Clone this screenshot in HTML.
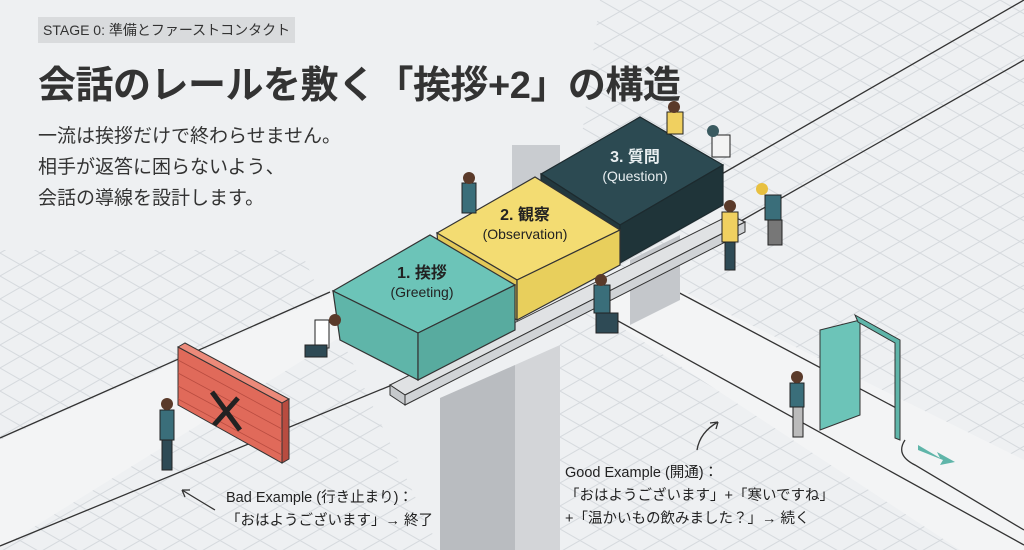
<!DOCTYPE html>
<html><head><meta charset="utf-8"><style>
html,body{margin:0;padding:0;}
body{width:1024px;height:550px;overflow:hidden;background:#eef0f2;font-family:"Liberation Sans","Noto Sans CJK JP",sans-serif;position:relative;}
svg{position:absolute;left:0;top:0;}
.t{position:absolute;color:#2b2b2b;white-space:nowrap;}
</style></head><body>
<svg width="1024" height="550" viewBox="0 0 1024 550">
<defs>
<pattern id="g" width="40" height="23" patternUnits="userSpaceOnUse">
<path d="M0 0 L40 23 M0 23 L40 0" stroke="#d6dade" stroke-width="1" fill="none"/>
</pattern>
</defs>
<rect width="1024" height="550" fill="#eef0f2"/>
<polygon points="0,250 300,250 440,550 0,550" fill="url(#g)"/>
<polygon points="600,0 1024,0 1024,550 560,550 560,300" fill="url(#g)"/>
<!-- roads -->
<polygon points="0,440 340,290 400,300 0,548" fill="#f3f4f5"/>
<line x1="0" y1="438" x2="330" y2="292" stroke="#333" stroke-width="1.3"/>
<line x1="0" y1="546" x2="392" y2="385" stroke="#333" stroke-width="1.3"/>
<line x1="725" y1="230" x2="1024" y2="60" stroke="#333" stroke-width="1.3"/>
<line x1="720" y1="175" x2="1024" y2="0" stroke="#333" stroke-width="1.3"/>
<polygon points="580,300 640,270 1024,460 1024,550 960,550" fill="#f3f4f5"/>
<line x1="580" y1="300" x2="1024" y2="545" stroke="#333" stroke-width="1.3"/>
<line x1="640" y1="272" x2="900" y2="410" stroke="#333" stroke-width="1.3"/>
<path d="M905 440 Q895 455 915 465 L1024 530" stroke="#333" stroke-width="1.3" fill="none"/>
<!-- back pillar -->
<rect x="512" y="145" width="48" height="120" fill="#c9ccd0"/>
<polygon points="630,260 680,235 680,300 630,325" fill="#c4c7cb"/>
<!-- front pillar -->
<polygon points="440,398 515,365 515,550 440,550" fill="#b9bcc0"/>
<polygon points="515,365 560,345 560,550 515,550" fill="#d3d5d8"/>
<!-- beam -->
<polygon points="390,385 730,215 745,222 405,395" fill="#e0e2e4" stroke="#333" stroke-width="1"/>
<polygon points="390,385 405,395 405,405 390,395" fill="#c6c9cc" stroke="#333" stroke-width="1"/>
<polygon points="405,395 745,222 745,232 405,405" fill="#d0d3d6" stroke="#333" stroke-width="1"/>
<!-- block 3 dark -->
<polygon points="541,174 640,117 723,165 620,225" fill="#2c4a52" stroke="#1d2a2e" stroke-width="1.2"/>
<polygon points="541,174 620,225 620,263 541,212" fill="#22383e" stroke="#1d2a2e" stroke-width="1.2"/>
<polygon points="620,225 723,165 723,205 620,263" fill="#1f3439" stroke="#1d2a2e" stroke-width="1.2"/>
<!-- block 2 yellow -->
<polygon points="437,233 535,177 620,230 517,280" fill="#f3dc72" stroke="#333" stroke-width="1.2"/>
<polygon points="437,233 517,280 517,320 440,272" fill="#e2c858" stroke="#333" stroke-width="1.2"/>
<polygon points="517,280 620,230 620,265 517,320" fill="#e8cf5c" stroke="#333" stroke-width="1.2"/>
<!-- block 1 teal -->
<polygon points="333,291 430,235 515,285 418,333" fill="#6cc4b8" stroke="#333" stroke-width="1.2"/>
<polygon points="333,291 418,333 418,380 340,340" fill="#5fb5a9" stroke="#333" stroke-width="1.2"/>
<polygon points="418,333 515,285 515,330 418,380" fill="#58ab9f" stroke="#333" stroke-width="1.2"/>
<!-- wall -->
<polygon points="178,347 282,403 282,463 178,405" fill="#e06a5a" stroke="#333" stroke-width="1"/>
<polygon points="178,347 185,343 289,399 282,403" fill="#ec8a7a" stroke="#333" stroke-width="1"/>
<polygon points="282,403 289,399 289,459 282,463" fill="#b84c40" stroke="#333"/>
<g stroke="#b84c40" stroke-width="0.8">
<line x1="178" y1="360" x2="282" y2="416"/><line x1="178" y1="373" x2="282" y2="429"/><line x1="178" y1="386" x2="282" y2="442"/><line x1="178" y1="399" x2="282" y2="455"/>
</g>
<path d="M212 392 L240 430 M238 398 L214 425" stroke="#222" stroke-width="5"/>
<!-- door -->
<polygon points="820,330 860,320 860,415 820,430" fill="#6cc4b8" stroke="#333"/>
<polygon points="855,315 900,340 900,440 895,438 895,343 858,322" fill="#5fb5a9" stroke="#333"/>
<polygon points="918,445 940,458 937,452 955,462 940,465 943,460 918,450" fill="#5fb5a9"/>
<!-- people (simple) -->
<g fill="#3a6e7a" stroke="#222" stroke-width="1">
<rect x="160" y="410" width="14" height="30"/><rect x="162" y="440" width="10" height="30" fill="#2e4a55"/>
<rect x="315" y="320" width="14" height="28" fill="#fff"/><rect x="305" y="345" width="22" height="12" fill="#2e4a55"/>
<rect x="790" y="383" width="14" height="24"/><rect x="793" y="407" width="10" height="30" fill="#bbb"/>
<rect x="594" y="285" width="16" height="28"/><rect x="596" y="313" width="22" height="20" fill="#2e4a55"/>
<rect x="462" y="183" width="14" height="30"/>
<rect x="667" y="112" width="16" height="22" fill="#f0d060"/>
<rect x="712" y="135" width="18" height="22" fill="#f3f3f3"/>
<rect x="722" y="212" width="16" height="30" fill="#f0d060"/><rect x="725" y="242" width="10" height="28" fill="#2e4a55"/>
<rect x="765" y="195" width="16" height="25"/><rect x="768" y="220" width="14" height="25" fill="#777"/>
</g>
<g fill="#5a3a2a"><circle cx="167" cy="404" r="6"/><circle cx="335" cy="320" r="6"/><circle cx="797" cy="377" r="6"/><circle cx="601" cy="280" r="6"/><circle cx="469" cy="178" r="6"/><circle cx="674" cy="107" r="6"/><circle cx="713" cy="131" r="6" fill="#3a5a60"/><circle cx="762" cy="189" r="6" fill="#e8c040"/><circle cx="730" cy="206" r="6"/></g>
<path d="M215 510 Q195 498 182 490 M182 490 l8 0 M182 490 l3 7" stroke="#333" stroke-width="1.3" fill="none"/>
<path d="M697 450 Q700 432 718 422 M718 422 l-8 1 M718 422 l-2 7" stroke="#333" stroke-width="1.3" fill="none"/>
</svg>
<div class="t" style="left:38px;top:17px;background:#d9dbdd;padding:3px 5px;font-size:14px;color:#333;">STAGE 0: 準備とファーストコンタクト</div>
<div class="t" style="left:38px;top:54px;font-size:38px;font-weight:bold;color:#333;letter-spacing:-0.5px;">会話のレールを敷く「挨拶+2」の構造</div>
<div class="t" style="left:38px;top:121px;font-size:19px;line-height:31px;color:#333;">一流は挨拶だけで終わらせません。<br>相手が返答に困らないよう、<br>会話の導線を設計します。</div>
<div class="t" style="left:382px;top:264px;width:80px;text-align:center;font-size:14px;line-height:19px;color:#222;"><b style="font-size:16px">1. 挨拶</b><br>(Greeting)</div>
<div class="t" style="left:470px;top:206px;width:110px;text-align:center;font-size:14px;line-height:19px;color:#222;"><b style="font-size:16px">2. 観察</b><br>(Observation)</div>
<div class="t" style="left:590px;top:148px;width:90px;text-align:center;font-size:14px;line-height:19px;color:#e8eef0;"><b style="font-size:16px">3. 質問</b><br>(Question)</div>
<div class="t" style="left:226px;top:487px;font-size:14.5px;line-height:23px;color:#222;">Bad Example (行き止まり)：<br>「おはようございます」→ 終了</div>
<div class="t" style="left:565px;top:462px;font-size:14.5px;line-height:23px;color:#222;">Good Example (開通)：<br>「おはようございます」+「寒いですね」<br>+「温かいもの飲みました？」→ 続く</div>
</body></html>
